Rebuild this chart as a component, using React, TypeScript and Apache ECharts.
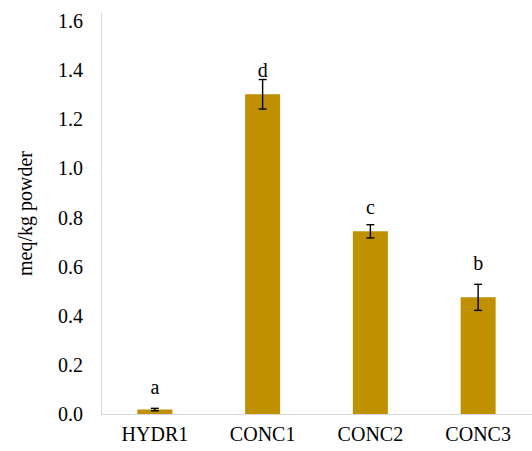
import React, { useEffect, useRef } from "react";
import * as echarts from "echarts";

const categories = ["HYDR1", "CONC1", "CONC2", "CONC3"];
const values = [0.018, 1.302, 0.744, 0.475];
const errors = [0.005, 0.06, 0.027, 0.053];
const letters = ["a", "d", "c", "b"];
const letterPositions = [0.111, 1.401, 0.844, 0.615];
const yTicks = [0, 0.2, 0.4, 0.6, 0.8, 1.0, 1.2, 1.4, 1.6];

const FONT = "'Liberation Serif', 'Times New Roman', serif";

export default function App() {
  const ref = useRef<HTMLDivElement>(null);
  useEffect(() => {
    if (!ref.current) return;
    const chart = echarts.init(ref.current, undefined, { renderer: "svg" });
    chart.setOption({
      animation: false,
      backgroundColor: "#ffffff",
      grid: { left: 101, top: 13, bottom: 37, right: -12 },
      xAxis: {
        type: "category",
        data: categories,
        axisLine: { lineStyle: { color: "#d9d9d9", width: 1 } },
        axisTick: { show: false },
        axisLabel: { color: "#000", fontFamily: FONT, fontSize: 20, margin: 10 },
      },
      yAxis: {
        type: "value",
        min: 0,
        max: 1.633,
        interval: 0.2,
        name: "meq/kg powder",
        nameLocation: "middle",
        nameGap: 66,
        nameTextStyle: { color: "#000", fontFamily: FONT, fontSize: 20 },
        axisLine: { show: true, lineStyle: { color: "#d9d9d9", width: 1 } },
        axisTick: { show: false },
        splitLine: { show: false },
        axisLabel: {
          color: "#000",
          fontFamily: FONT,
          fontSize: 20,
          margin: 18,
          showMaxLabel: false,
          formatter: (v: number) => (yTicks.some((t) => Math.abs(t - v) < 1e-6) ? v.toFixed(1) : ""),
        },
      },
      series: [
        {
          type: "bar",
          data: values,
          barWidth: 35,
          itemStyle: { color: "#BF9000" },
        },
        {
          type: "custom",
          data: categories.map((c, i) => [i, values[i] - errors[i], values[i] + errors[i]]),
          z: 10,
          renderItem: (params: any, api: any) => {
            const x = api.value(0);
            const lo = api.coord([x, api.value(1)]);
            const hi = api.coord([x, api.value(2)]);
            const cap = 4;
            const style = { stroke: "#000", lineWidth: 1.4 };
            return {
              type: "group",
              children: [
                { type: "line", shape: { x1: hi[0], y1: hi[1], x2: lo[0], y2: lo[1] }, style },
                { type: "line", shape: { x1: hi[0] - cap, y1: hi[1], x2: hi[0] + cap, y2: hi[1] }, style },
                { type: "line", shape: { x1: lo[0] - cap, y1: lo[1], x2: lo[0] + cap, y2: lo[1] }, style },
              ],
            };
          },
        },
        {
          type: "custom",
          data: categories.map((c, i) => [i, letterPositions[i]]),
          z: 11,
          renderItem: (params: any, api: any) => {
            const p = api.coord([api.value(0), api.value(1)]);
            return {
              type: "text",
              x: p[0],
              y: p[1],
              style: {
                text: letters[params.dataIndex],
                fill: "#000",
                font: `20px ${FONT}`,
                align: "center",
                verticalAlign: "middle",
              },
            };
          },
        },
      ],
    });
    return () => chart.dispose();
  }, []);
  return <div ref={ref} style={{ width: 532, height: 451, position: "absolute", left: 0, top: 0 }} />;
}
